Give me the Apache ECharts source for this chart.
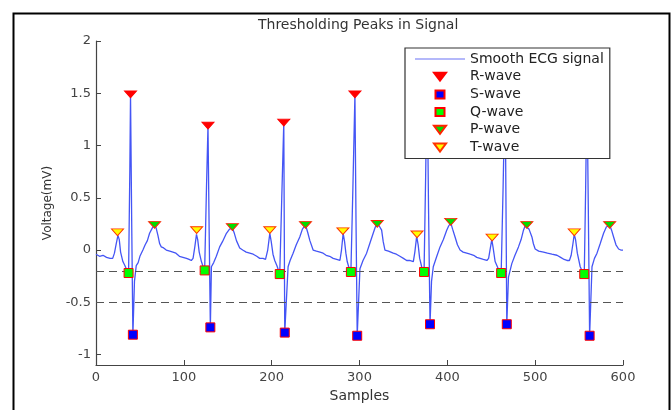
<!DOCTYPE html>
<html>
<head>
<meta charset="utf-8">
<script src="https://cdn.jsdelivr.net/npm/echarts@6/dist/echarts.min.js"></script>
<style>html,body{margin:0;padding:0;background:#fff;}#chart{width:671px;height:410px;}</style>
</head>
<body>
<div id="chart"></div>
<script>
// ---- data ----
var chartTitle = 'Thresholding Peaks in Signal';
var xName = 'Samples';
var yName = 'Voltage(mV)';
var yTickValues = [-1, -0.5, 0, 0.5, 1, 1.5, 2];
var thresholds = [-0.2, -0.5];
var legendNames = ['Smooth ECG signal', 'R-wave', 'S-wave', 'Q-wave', 'P-wave', 'T-wave'];

var ecgSignal = [
[0,-0.04],[4,-0.06],[8,-0.05],[12,-0.07],[16,-0.08],[19,-0.08],[21,-0.03],[23,0.06],[25,0.14],[26.5,0.10],[28,-0.02],[30.6,-0.11],[33,-0.15],[35,-0.19],[37.1,-0.22],[38.5,0.75],[39.3,1.49],[40.6,0.3],[42,-0.81],[43.8,-0.3],[45.8,-0.15],[48,-0.12],[50,-0.06],[53.4,0.0],[56,0.05],[58.5,0.09],[61,0.16],[64,0.21],[66.7,0.24],[68.5,0.21],[70.5,0.14],[72.5,0.06],[74.3,0.03],[77,0.02],[80,0.0],[84,-0.01],[87.6,-0.02],[91,-0.03],[95,-0.06],[99,-0.07],[103,-0.08],[106,-0.09],[108.5,-0.1],[110.5,-0.08],[112.5,0.03],[114.4,0.15],[115.8,0.1],[117.5,-0.02],[120,-0.11],[122,-0.16],[123.7,-0.195],[125.8,0.6],[127.5,1.19],[128.8,0.2],[130.2,-0.74],[131.4,-0.16],[134,-0.12],[137,-0.06],[140.8,0.03],[144,0.08],[148.5,0.16],[152,0.2],[155.3,0.21],[157.5,0.16],[159.9,0.09],[163.6,0.02],[167,0.0],[171,-0.02],[175,-0.03],[179,-0.04],[183,-0.06],[186.4,-0.08],[190.2,-0.08],[193,-0.09],[195.5,0.0],[197.9,0.16],[199.5,0.08],[201.5,-0.04],[203.5,-0.1],[206,-0.15],[209.2,-0.23],[211.5,0.5],[213.8,1.22],[214.3,0.3],[214.9,-0.79],[218.7,-0.16],[221,-0.1],[224.4,-0.03],[228,0.05],[232,0.125],[235,0.2],[238.5,0.24],[241,0.17],[243.5,0.09],[247.2,0.0],[251,-0.01],[255,-0.02],[258.6,-0.03],[262,-0.05],[266,-0.06],[270,-0.08],[274,-0.09],[277.7,-0.1],[279.5,0.0],[281.4,0.16],[283,0.08],[284.5,-0.03],[286,-0.11],[288,-0.17],[290.2,-0.21],[292.5,0.6],[294.8,1.49],[296,0.3],[297.4,-0.82],[300.5,-0.18],[304,-0.1],[308.1,-0.03],[312,0.07],[315.6,0.16],[318,0.22],[320.2,0.25],[322.5,0.23],[325.2,0.19],[327,0.08],[329,0.0],[333,-0.01],[338.4,-0.03],[342,-0.04],[346,-0.06],[350,-0.08],[353.7,-0.1],[357,-0.1],[361.3,-0.11],[363,-0.02],[365.1,0.13],[366.8,0.05],[368.5,-0.08],[370.8,-0.16],[373.5,-0.21],[375.3,0.7],[377,1.7],[378.6,0.4],[380.3,-0.71],[382,-0.3],[384,-0.16],[388,-0.06],[391.7,0.03],[395.5,0.1],[399.3,0.19],[401.5,0.23],[403.9,0.26],[406,0.2],[408.8,0.125],[411.5,0.05],[414.5,0.0],[418,-0.02],[422.1,-0.03],[426,-0.04],[430,-0.05],[433.5,-0.07],[437.3,-0.08],[441,-0.09],[445,-0.1],[447,-0.08],[449,0.02],[450.6,0.1],[452,0.03],[454.4,-0.11],[457,-0.16],[459,-0.2],[461.3,-0.22],[463.5,0.6],[465.8,1.6],[466.8,0.4],[467.7,-0.71],[469.6,-0.26],[473.4,-0.13],[477,-0.05],[481,0.03],[484,0.1],[486.7,0.19],[488.5,0.23],[490.5,0.24],[493,0.2],[496.3,0.125],[498,0.06],[500,0.01],[504,-0.01],[509.5,-0.02],[514,-0.03],[519,-0.04],[524.8,-0.05],[529,-0.07],[533,-0.09],[536.2,-0.1],[539,-0.1],[541,-0.05],[543,0.06],[544.5,0.15],[546,0.1],[548,-0.03],[551.3,-0.16],[553.5,-0.2],[555.9,-0.23],[557.5,0.6],[559,1.55],[560.5,0.4],[562,-0.82],[564.7,-0.16],[567.5,-0.08],[570.4,-0.03],[574,0.06],[577.9,0.16],[581,0.22],[584.8,0.24],[587,0.19],[589.3,0.125],[592,0.05],[595,0.01],[597.5,0.0],[600,0.0]
];

var rWave = [[39.3,1.49],[127.5,1.19],[213.8,1.22],[294.8,1.49],[377,1.7],[465.8,1.6],[559,1.55]];
var sWave = [[42,-0.81],[130.2,-0.74],[214.9,-0.79],[297.4,-0.82],[380.3,-0.71],[467.7,-0.71],[562,-0.82]];
var qWave = [[37.1,-0.22],[123.7,-0.195],[209.2,-0.23],[290.2,-0.21],[373.5,-0.21],[461.3,-0.22],[555.9,-0.23]];
var pWave = [[66.7,0.24],[155.3,0.22],[238.5,0.24],[320.2,0.25],[403.9,0.27],[490.5,0.24],[584.8,0.24]];
var tWave = [[24.5,0.17],[114.6,0.19],[197.9,0.19],[281.1,0.18],[365.5,0.15],[451,0.12],[544.5,0.17]];

// ---- chart ----
var FONT = 'DejaVu Sans';
var TRI = 'path://M0,0L12,0L6,9Z';
var SQ = 'path://M0,0L10,0L10,10L0,10Z';
var LINE_ICON = 'path://M0,0L50,0L50,1.2L0,1.2Z';
var legendIcons = [LINE_ICON, 'path://M0,0L12,0L6,8Z', 'path://M0,0L9,0L9,8L0,8Z', 'path://M0,0L9,0L9,8L0,8Z', 'path://M0,0L12,0L6,8Z', 'path://M0,0L12,0L6,8Z'];
var chart = echarts.init(document.getElementById('chart'), null, {renderer: 'canvas'});

function markerSeries(name, data, symbol, size, fill, border) {
  return {
    name: name, type: 'scatter', data: data, symbol: symbol, symbolSize: size,
    symbolKeepAspect: true, z: 5,
    itemStyle: {color: fill, borderColor: border, borderWidth: 1, opacity: 1}
  };
}

chart.setOption({
  animation: false,
  backgroundColor: '#ffffff',
  title: {
    text: chartTitle, left: 258, top: 18, padding: 0,
    textStyle: {fontFamily: FONT, fontSize: 14, fontWeight: 'normal', color: '#333'}
  },
  graphic: [{
    type: 'rect', left: 11, top: 11, z: 100, silent: true,
    shape: {x: 0, y: 0, width: 656, height: 430},
    style: {fill: null, stroke: '#000', lineWidth: 2}
  }],
  grid: {left: 96, right: 48, top: 41, bottom: 45, containLabel: false},
  xAxis: {
    type: 'value', min: 0, max: 600, interval: 100,
    name: xName, nameLocation: 'middle', nameGap: 20,
    nameTextStyle: {fontFamily: FONT, fontSize: 14, color: '#333'},
    axisLine: {show: true, onZero: false, lineStyle: {color: '#444', width: 1.2}},
    axisTick: {show: true, inside: true, length: 5, lineStyle: {color: '#444'}},
    axisLabel: {fontFamily: FONT, fontSize: 13, color: '#444', margin: 6},
    splitLine: {show: false}
  },
  yAxis: {
    type: 'value', min: -1.1, max: 2,
    name: yName, nameLocation: 'middle', nameGap: 42,
    nameTextStyle: {fontFamily: FONT, fontSize: 12, color: '#333'},
    axisLine: {show: true, onZero: false, lineStyle: {color: '#444', width: 1.2}},
    axisTick: {show: true, inside: true, length: 5, lineStyle: {color: '#444'}, customValues: yTickValues},
    axisLabel: {fontFamily: FONT, fontSize: 13, color: '#444', margin: 5, customValues: yTickValues},
    splitLine: {show: false}
  },
  legend: {
    data: legendNames.map(function (n, i) { return {name: n, icon: legendIcons[i]}; }),
    orient: 'vertical', left: 405, top: 48,
    padding: [4, 6, 4, 10], itemWidth: 50, itemHeight: 8, itemGap: 3.7,
    symbolKeepAspect: true,
    backgroundColor: '#fff', borderColor: '#333', borderWidth: 1.2, borderRadius: 0,
    textStyle: {fontFamily: FONT, fontSize: 14, color: '#222'},
    selectedMode: false, z: 10
  },
  series: [
    {
      name: 'Smooth ECG signal', type: 'line', data: ecgSignal, symbol: 'none', showSymbol: false,
      lineStyle: {color: '#4455f5', width: 1.3}, itemStyle: {color: '#6a72f5'}, z: 2,
      markLine: {
        silent: true, symbol: ['none', 'none'], label: {show: false},
        lineStyle: {color: '#555', width: 1.2, type: [8, 5]},
        data: thresholds.map(function (v) { return {yAxis: v}; })
      }
    },
    markerSeries('R-wave', rWave, TRI, [12, 9], '#ff0000', '#ff0000'),
    markerSeries('S-wave', sWave, SQ, 9, '#0000ff', '#ff0000'),
    markerSeries('Q-wave', qWave, SQ, 9, '#00ff00', '#ff0000'),
    markerSeries('P-wave', pWave, TRI, [12, 9], '#00dd00', '#ff2200'),
    markerSeries('T-wave', tWave, TRI, [12, 9], '#ffff00', '#ff3300')
  ]
});
</script>
</body>
</html>
